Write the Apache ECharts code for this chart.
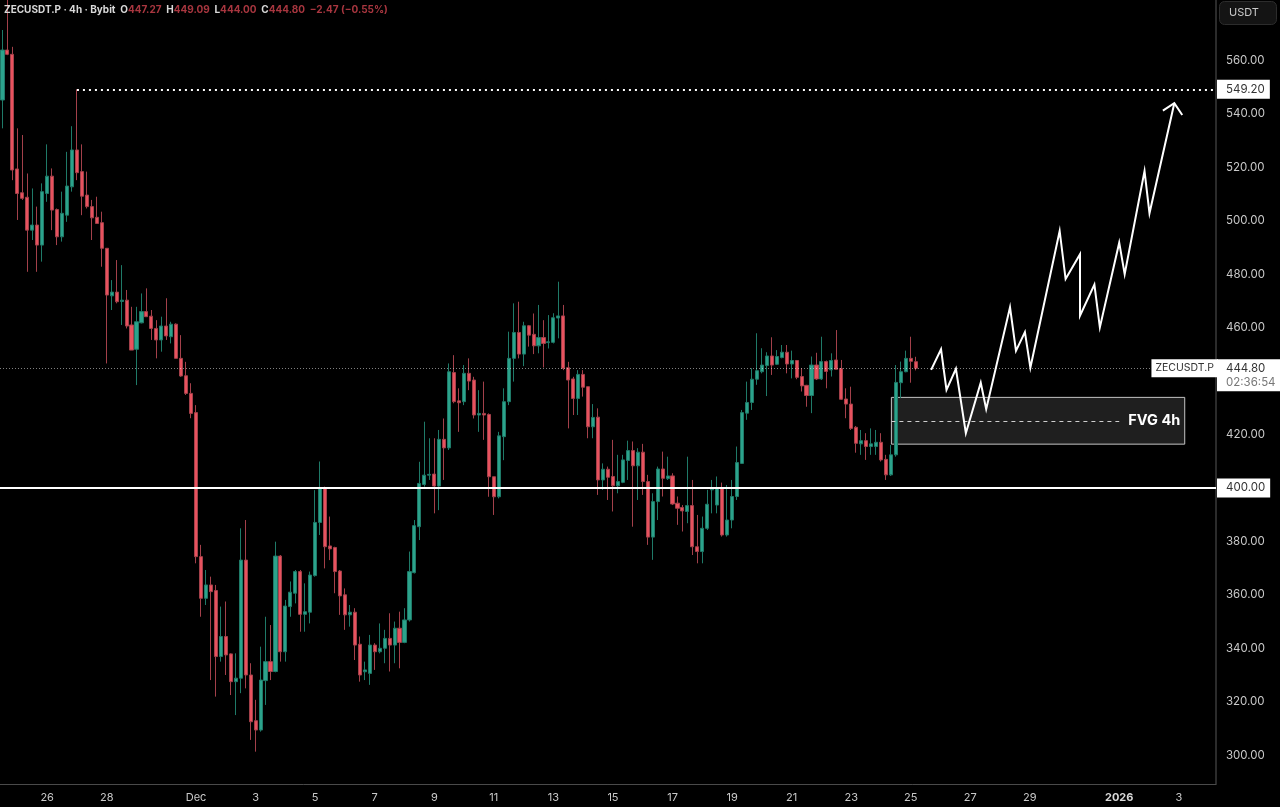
<!DOCTYPE html>
<html>
<head>
<meta charset="utf-8">
<title>ZECUSDT.P 4h</title>
<style>
html, body { margin: 0; padding: 0; background: #000; }
#chart { width: 1280px; height: 807px; }
</style>
<script src="https://cdn.jsdelivr.net/npm/echarts@6/dist/echarts.min.js"></script>
</head>
<body>
<div id="chart"></div>
<script>
// 4h bars, oldest first
const opens = [
	545.2,563.9,562.3,519.4,510.5,508.8,496.5,498.4,490.9,510.2,
	516.7,504.2,494,502.1,512.7,526.5,518.4,509.6,505.3,501.3,
	499.3,489.7,471.9,473.3,469.8,470.3,461,451.9,461.8,466,
	464.3,459.7,455.4,460.6,456.6,461.3,448.5,442,435.4,428.2,
	374.3,358.7,363.7,361.6,336.9,344.4,337.9,327.5,328.8,373,
	330,312.9,309.4,327.9,335,331.3,374.5,338.7,355.6,360.6,
	368.7,352.7,353.5,367.2,387.1,399.9,378.3,377.7,368.9,360,
	352.5,353.5,341.5,331.2,330.6,341.2,338.7,340,343.7,341.2,
	347.5,342.2,350.6,368.3,385.5,401.3,404.8,405.2,400.7,418.2,
	415,443.2,432.6,432.3,442.9,440.4,427.3,427.9,427.5,404.2,
	396.7,419.2,432.3,448.5,458.2,450.1,460.7,457.5,453.2,456.3,
	454.4,454.5,463.6,464.4,445,440.8,433.5,442.5,437.9,422.9,
	426.5,403,407,404.3,400.8,402.1,410.3,414,408.3,413.4,
	402.4,381.6,394.9,407.1,403.5,404.5,394.3,392.7,391.2,393.4,
	378,376.2,384.9,399.3,393.6,400.1,382.4,388,396.8,409.2,
	428,432,440.7,443.5,445.8,449.4,446.3,448.8,450.8,446.4,
	447.7,441.7,438.4,434.6,446,440.8,447.3,444.2,447.9,444.7,
	433.3,431.4,422.7,416.5,417.7,415.5,415.5,417.1,410.7,404.9,
	412.4,439.4,443.5,448.5,447.27
];
const closes = [
	563.9,562.3,519,510.2,508.4,496.5,498.4,490.9,510.9,516.7,
	504,494,502.8,513,526.5,518,509.2,505.3,501.1,499,
	489.7,472.2,473.3,469.7,470.3,460.6,451.6,462.2,466,464.1,
	459.7,455.4,460.6,456.9,461.3,448.5,441.9,435.4,427.9,374.3,
	358.7,363.7,361.2,336.9,344.4,337.5,327.5,328.8,373,330,
	312.5,309.4,328.1,335,331.3,374.5,338.7,355.8,361,368.7,
	352.7,353.7,367.4,387.1,399.9,378,377.2,368.7,359.6,352.5,
	353.5,341.2,330,331.9,341.2,338.7,340,343.7,341.2,347.5,
	342.2,350.6,368.7,385.9,401.7,404.8,405.1,400.7,418.2,415,
	443.5,432.3,431.9,442.9,440,427.3,427.9,427.3,404.2,396.7,
	419.5,432.3,448.5,458.2,450.1,460.7,457.2,453.2,456.3,454.1,
	454.7,463.7,464.4,444.8,440.4,433.5,442.5,437.7,422.9,426.4,
	403,407,404,400.8,402.4,410.5,414,408.3,413.4,402.4,
	381.6,394.9,407.1,403.6,404.5,394,392.4,391.4,393.4,378,
	376.2,384.9,393.9,400.1,399.9,382.4,388,396.8,409.5,428.2,
	432,440.7,443.9,446,449.4,446,449.2,450.8,446.4,447.7,
	441.4,438.2,434.6,446,440.8,447.3,443.6,447.7,444.4,433.2,
	431.4,422.3,416.7,417.7,415.5,416.5,417.1,410.5,404.9,412.4,
	439.5,443.5,448.5,447.4,444.8
];
const lows = [
	534.6,562,515.2,500.3,507.8,480.9,492.8,480.9,484.7,507.1,
	496.5,490.9,492.2,499.6,510.9,515.2,502.1,504.6,492.8,499,
	482.8,446.6,466.6,469.1,461,459.7,451.6,438.5,461.6,464,
	455.4,448.5,451,455.4,454.1,448.5,441.6,434.8,426.1,371.8,
	351.8,356.2,328.1,321.9,335,330,322.5,315,323.2,325,
	305.7,301.3,308.8,318.8,328.1,331,335,335,351.8,356.8,
	346.2,346.2,349.3,366.8,382.4,369.9,373,360.6,352.5,346.9,
	348.1,335.6,327.5,328.1,326.3,331.9,338.1,334.4,331.3,334.4,
	332.5,341.9,350,368,380.5,400.5,403,390.5,391.7,403,
	414.2,431.7,421,431,436.6,426,421,418,396.7,389.9,
	396.1,410.4,431,439.8,448.5,445.6,452.9,450.1,450.4,445.1,
	452.2,454.1,456,444.1,422.3,427.3,427.3,434.2,418.6,418.6,
	397.4,399.3,395.5,391.2,398,401.8,403,385.5,395.5,397.4,
	378.7,373.1,388,396.8,403,393.6,386.2,383.7,386.8,374.9,
	371.8,371.8,384.3,390.5,390.5,381.8,381.8,384.9,395.5,409,
	425.5,429.2,438.6,442.9,434.4,442.3,446,448.5,442.9,441,
	440.7,436.1,430.4,428,440.4,440.4,437.3,441.7,444.4,433,
	426.1,421.7,413.2,412.4,410.5,412.4,412.4,409.9,403,404.5,
	411.7,433.6,443.3,439.4,444
];
const highs = [
	571.4,590,565.1,534.6,532.1,517.7,512.1,505.3,514,528.6,
	519.6,504.6,510.9,525.8,535.4,549.2,528.6,518.4,507.8,509,
	503.4,489.7,477.8,485.3,483.4,474.1,467.8,467.8,472.8,474.7,
	466.6,462.8,464.1,471,462.2,461.6,457.2,447.2,439.2,431,
	378.7,369.3,366.8,363.7,355.6,357.5,338.1,338.1,384.9,388,
	334.4,320.7,340.6,351.8,348.7,379.9,374.9,358.1,365,369.3,
	369.3,364.3,368.7,399.2,409.9,400.5,389.3,378,369.3,362.4,
	356.2,355,344.4,335,345,341.9,349.3,346.9,353.1,350,
	353.7,355,376.2,388,409.8,424.8,418.6,418.6,421.7,426,
	446.6,449.7,437.3,446,448.5,441.6,436.6,439.8,427.9,404.2,
	421,437.3,458.5,469.1,469.7,462.2,461,465.3,468.5,462.8,
	464.7,465.4,477.2,468.5,447.2,441.6,444.1,444.1,437.9,431.4,
	429.8,409.2,408,418,412.4,412.4,417.7,417.4,414.9,416.5,
	404.9,398,408,413.6,411.7,405.5,396.8,393.6,411.7,403,
	389.9,389.3,399.3,403,404.3,402,401.1,403,415.5,429.2,
	439.8,444.8,457.9,452.3,450.8,456.4,451.6,453.5,453.5,451.4,
	447.9,444.8,438.6,449.2,450.6,456.6,447.7,450.4,459.1,447.9,
	437.3,437.9,423.2,421.7,420.5,422.3,421.7,420.5,412.4,416.1,
	446,447.3,451.4,456.6,449.09
];

// time axis: bar number of each tick and its text
const tickBars = [9, 21, 39, 51, 63, 75, 87, 99, 111, 123, 135, 147, 159, 171, 183, 195, 207, 225, 237];
const tickLabels = ['26', '28', 'Dec', '3', '5', '7', '9', '11', '13', '15', '17', '19', '21', '23', '25', '27', '29', '2026', '3'];
const priceTicks = [300, 320, 340, 360, 380, 400, 420, 440, 460, 480, 500, 520, 540, 560];

// hand drawn projection, in bar number / price
const pathBars = [187.1, 189.1, 190.2, 192.1, 194.1, 197.1, 198.2, 203, 204.2, 206, 207.1, 213, 214.2, 217.1, 217.1, 220, 221.1, 225, 226.1, 230.1, 231.1, 236.1];
const pathPrices = [444.2, 451.9, 436.7, 444.6, 420.5, 439.4, 429.5, 467.6, 451.3, 458.3, 445, 496.2, 478.2, 487.5, 464.5, 476.1, 460.1, 491.8, 480, 518.6, 502.8, 544];
const arrowBars = [233.8, 236.1, 237.7];
const arrowPrices = [541.2, 544, 539.6];

// levels and the FVG box
const barCount = 245;
const highLevel = 549.2;
const highLevelBar = 15;
const roundLevel = 400;
const lastPrice = 444.8;
const countdown = '02:36:54';
const fvgBars = [179.1, 238.2];
const fvgPrices = [416.4, 433.9];
const fvgMid = 425.1;
const fvgMidEndBar = 225;

const symbolName = 'ZECUSDT.P';
const headerName = 'ZECUSDT.P · 4h · Bybit';
const headerValues = ['447.27', '449.09', '444.00', '444.80'];
const headerChange = '−2.47 (−0.55%)';

const FONT = 'Inter, "Liberation Sans", sans-serif';
const UP = '#2ca38c', UP_DIM = '#1f7a68', DOWN = '#e8525e', DOWN_DIM = '#a3404a';

function pairs(xs, ys) {
	return xs.map(function (x, i) { return [x, ys[i]]; });
}

let categories = [];
for (let i = 0; i < barCount; i++) categories.push(String(i));

let candles = opens.map(function (o, i) {
	return [o, closes[i], lows[i], highs[i]];
});

function priceTag(text, offset) {
	return {
		show: true,
		position: 'end',
		distance: 1,
		formatter: text,
		backgroundColor: '#fff',
		color: '#333',
		fontFamily: FONT,
		fontSize: 11.5,
		padding: [4, 5, 3, 9],
		offset: offset || [0, 0]
	};
}

let ec_chart = echarts.init(document.getElementById('chart'));

let ec_option = {
	animation: false,
	backgroundColor: '#000',
	title: {
		left: -1,
		top: 0,
		text: '{w|' + headerName + '}  {w|O}{r|' + headerValues[0] + '}  {w|H}{r|' + headerValues[1] +
			'}  {w|L}{r|' + headerValues[2] + '}  {w|C}{r|' + headerValues[3] + '}  {r|' + headerChange + '}',
		textStyle: {
			fontFamily: FONT,
			fontSize: 10,
			rich: {
				w: { color: '#d8d8d8', fontFamily: FONT, fontSize: 10 },
				r: { color: '#a8363f', fontFamily: FONT, fontSize: 10 }
			}
		}
	},
	grid: { left: 0, right: 64, top: 0, bottom: 23 },
	xAxis: [{
		type: 'category',
		data: categories,
		boundaryGap: true,
		axisLine: { onZero: false, lineStyle: { color: '#4a4a4a', width: 1 } },
		axisTick: { show: false },
		splitLine: { show: false },
		axisLabel: {
			color: '#c9c9c9',
			fontFamily: FONT,
			fontSize: 11,
			margin: 8,
			hideOverlap: false,
			interval: function (index) { return tickBars.indexOf(index) >= 0; },
			formatter: function (value) {
				let k = tickBars.indexOf(Number(value));
				if (k < 0) return '';
				return tickLabels[k] === '2026' ? '{b|2026}' : tickLabels[k];
			},
			rich: { b: { fontWeight: 'bold', color: '#d8d8d8', fontFamily: FONT, fontSize: 11 } }
		}
	}, {
		// same width as the bars, only for things that sit between two bars
		type: 'value',
		show: false,
		min: -0.5,
		max: barCount - 0.5,
		splitLine: { show: false }
	}],
	yAxis: {
		type: 'value',
		position: 'right',
		min: 289.2,
		max: 582.63,
		axisLine: { show: true, onZero: false, lineStyle: { color: '#3a3a3a', width: 1.5 } },
		axisTick: { show: false },
		splitLine: { show: false },
		axisLabel: {
			customValues: priceTicks,
			color: '#c9c9c9',
			fontFamily: FONT,
			fontSize: 11.5,
			margin: 10,
			padding: [2, 0, 0, 0],
			formatter: function (v) { return v.toFixed(2); }
		}
	},
	series: [{
		type: 'candlestick',
		data: candles,
		barWidth: 3.6,
		itemStyle: {
			color: UP,
			color0: DOWN,
			borderColor: UP_DIM,
			borderColor0: DOWN_DIM,
			borderWidth: 1
		}
	}, {
		type: 'line',
		xAxisIndex: 1,
		data: pairs(pathBars, pathPrices),
		symbol: 'none',
		z: 6,
		lineStyle: { color: '#fff', width: 2, join: 'miter' },
		markArea: {
			silent: true,
			itemStyle: {
				color: 'rgba(255,255,255,0.12)',
				borderColor: '#c4c4c4',
				borderWidth: 1
			},
			label: {
				show: true,
				position: 'insideRight',
				distance: 5,
				formatter: 'FVG 4h',
				color: '#fff',
				fontFamily: FONT,
				fontWeight: 'bold',
				fontSize: 14.5
			},
			data: [[
				{ coord: [fvgBars[0], fvgPrices[1]] },
				{ coord: [fvgBars[1], fvgPrices[0]] }
			]]
		},
		markLine: {
			silent: true,
			symbol: 'none',
			precision: 2,
			data: [
				[{
					coord: [highLevelBar, highLevel],
					lineStyle: { color: '#fff', width: 2, type: [2, 4] },
					label: priceTag(highLevel.toFixed(2))
				}, { coord: [barCount - 0.5, highLevel] }],
				[{
					coord: [-0.5, roundLevel],
					lineStyle: { color: '#fff', width: 2, type: 'solid' },
					label: priceTag(roundLevel.toFixed(2))
				}, { coord: [barCount - 0.5, roundLevel] }],
				[{
					coord: [-0.5, lastPrice],
					lineStyle: { color: 'rgba(255,255,255,0.5)', width: 1, type: [1, 2] },
					label: {
						show: true,
						position: 'end',
						distance: 1,
						offset: [0, 7],
						formatter: '{p|' + lastPrice.toFixed(2) + '}\n{t|' + countdown + '}',
						backgroundColor: '#fff',
						padding: [2, 5, 2, 9],
						rich: {
							p: { color: '#333', fontFamily: FONT, fontSize: 11.5, lineHeight: 14 },
							t: { color: '#777', fontFamily: FONT, fontSize: 11.5, lineHeight: 14 }
						}
					}
				}, { coord: [barCount - 0.5, lastPrice] }],
				[{
					coord: [fvgBars[0], fvgMid],
					lineStyle: { color: '#cfcfcf', width: 1, type: [4, 4] },
					label: { show: false }
				}, { coord: [fvgMidEndBar, fvgMid] }]
			]
		},
		markPoint: {
			silent: true,
			symbol: 'circle',
			symbolSize: 0,
			data: [{
				coord: [barCount - 0.5, lastPrice],
				label: {
					show: true,
					position: 'left',
					distance: 0,
					offset: [2, 0],
					formatter: symbolName,
					backgroundColor: '#fff',
					color: '#333',
					fontFamily: FONT,
					fontSize: 10.5,
					padding: [4, 4, 3, 4]
				}
			}]
		}
	}, {
		type: 'line',
		xAxisIndex: 1,
		data: pairs(arrowBars, arrowPrices),
		symbol: 'none',
		z: 6,
		lineStyle: { color: '#fff', width: 2, join: 'miter' }
	}],
	graphic: [{
		type: 'rect',
		right: 3,
		top: 1,
		shape: { width: 57, height: 23, r: 5 },
		style: { fill: '#141414', stroke: '#2c2c2c', lineWidth: 1 }
	}, {
		type: 'text',
		left: 1229,
		top: 7,
		style: { text: 'USDT', fill: '#c9c9c9', font: '11px ' + FONT }
	}]
};

ec_chart.setOption(ec_option);
</script>
</body>
</html>
